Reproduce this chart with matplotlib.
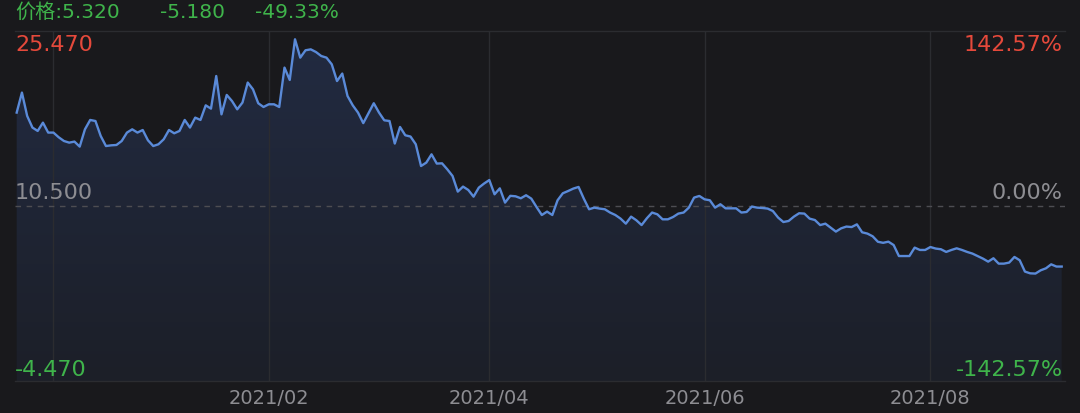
import numpy as np
import pandas as pd
import matplotlib
matplotlib.use('Agg')
import matplotlib.pyplot as plt

plt.rcParams['font.family'] = ['DejaVu Sans', 'Noto Sans CJK SC']

# daily closing prices (NYSE trading days from 2020-11-19)
prices = [
    18.49, 20.20, 18.20, 17.21, 16.92, 17.63, 16.78, 16.78, 16.38, 16.06,
    15.92, 16.01, 15.58, 17.06, 17.86, 17.77, 16.49, 15.63, 15.69, 15.72,
    16.06, 16.78, 17.06, 16.78, 17.00, 16.12, 15.63, 15.78, 16.21, 17.00,
    16.72, 16.92, 17.86, 17.21, 18.06, 17.86, 19.11, 18.83, 21.62, 18.34,
    20.00, 19.48, 18.77, 19.35, 21.06, 20.48, 19.29, 18.97, 19.20, 19.20,
    18.97, 22.34, 21.28, 24.76, 23.19, 23.82, 23.90, 23.67, 23.33, 23.19,
    22.62, 21.19, 21.83, 19.91, 19.11, 18.49, 17.59, 18.43, 19.29, 18.49,
    17.83, 17.77, 15.84, 17.26, 16.55, 16.44, 15.78, 13.92, 14.21, 14.92,
    14.13, 14.15, 13.64, 13.07, 11.73, 12.16, 11.87, 11.30, 12.07, 12.42,
    12.72, 11.50, 12.01, 10.79, 11.37, 11.33, 11.16, 11.42, 11.13, 10.41,
    9.73, 10.02, 9.73, 10.99, 11.59, 11.78, 11.99, 12.13, 11.13, 10.22,
    10.36, 10.28, 10.22, 9.94, 9.73, 9.42, 8.99, 9.59, 9.28, 8.87,
    9.45, 9.94, 9.79, 9.36, 9.36, 9.56, 9.85, 9.94, 10.36, 11.22,
    11.36, 11.07, 10.99, 10.36, 10.65, 10.30, 10.30, 10.30, 9.94, 9.99,
    10.45, 10.36, 10.33, 10.28, 10.07, 9.51, 9.13, 9.22, 9.59, 9.88,
    9.85, 9.42, 9.30, 8.87, 8.99, 8.65, 8.31, 8.59, 8.74, 8.70,
    8.93, 8.25, 8.14, 7.91, 7.44, 7.35, 7.45, 7.16, 6.22, 6.22,
    6.22, 6.94, 6.74, 6.74, 6.99, 6.86, 6.80, 6.57, 6.74, 6.88,
    6.74, 6.57, 6.43, 6.22, 6.00, 5.74, 6.03, 5.57, 5.57, 5.66,
    6.14, 5.86, 4.89, 4.74, 4.72, 5.00, 5.17, 5.51, 5.32, 5.32,
]
prev_close = 10.5
y_high = 25.47
y_low = -4.47
holidays = ['2020-11-26', '2020-12-25', '2021-01-01', '2021-01-18', '2021-02-15',
            '2021-04-02', '2021-05-31', '2021-07-05', '2021-09-06']

dates = pd.bdate_range('2020-11-19', periods=len(prices), freq='C', holidays=holidays)
x = np.arange(len(prices))
last = prices[-1]
chg = last - prev_close
pct = chg / prev_close * 100
span_pct = (y_high - prev_close) / prev_close * 100

BG = '#19191c'
GRID = '#2b2c30'
RED = '#e5493b'
GREEN = '#3fb44b'
GRAY = '#8d8d92'
LINE = '#5a8ad8'

fig = plt.figure(figsize=(10.8, 4.14), dpi=100, facecolor=BG)
ax = fig.add_axes([15 / 1080, 32 / 414, 1050 / 1080, 350 / 414])
ax.set_facecolor(BG)

x0, x1 = -0.32, len(prices) - 1 + 0.63
ax.set_xlim(x0, x1)
ax.set_ylim(y_low, y_high)

# gradient fill under the line
fill = ax.fill_between(x, prices, y_low, color='none', lw=0)
top_c = np.array([34, 43, 66]) / 255
bot_c = np.array([28, 31, 40]) / 255
t = np.linspace(0, 1, 256)[:, None]
grad = bot_c * (1 - t) + top_c * t
grad = np.repeat(grad[:, None, :], 2, axis=1)
im = ax.imshow(grad, extent=[x0, x1, y_low, y_high], origin='lower',
               aspect='auto', zorder=1, interpolation='bilinear')
im.set_clip_path(fill.get_paths()[0], transform=ax.transData)

ax.plot(x, prices, color=LINE, lw=1.7, zorder=3, solid_joinstyle='round')

# dashed previous close line
ax.axhline(prev_close, color='#4d4d52', lw=1, ls=(0, (4, 4)), zorder=2)

# month grid every two months
ticks = [i for i in range(1, len(dates))
         if dates[i].month != dates[i - 1].month and dates[i].month % 2 == 0]
labels = [dates[i].strftime('%Y/%m') for i in ticks]
labels[0] = ''  # first one is not labelled in the app
ax.set_xticks(ticks)
ax.set_xticklabels(labels)
ax.set_yticks([])
ax.grid(True, axis='x', color=GRID, lw=1, zorder=0)
ax.tick_params(axis='x', length=0, pad=5, labelsize=14, labelcolor=GRAY)

for side in ['left', 'right']:
    ax.spines[side].set_visible(False)
for side in ['top', 'bottom']:
    ax.spines[side].set_color(GRID)
    ax.spines[side].set_linewidth(1)

# axis value labels
fs = 16
ax.text(0.0, 0.964, f'{y_high:.3f}', transform=ax.transAxes, color=RED,
        fontsize=fs, ha='left', va='center')
ax.text(0.0, 0.54, f'{prev_close:.3f}', transform=ax.transAxes, color=GRAY,
        fontsize=fs, ha='left', va='center')
ax.text(0.0, 0.034, f'{y_low:.3f}', transform=ax.transAxes, color=GREEN,
        fontsize=fs, ha='left', va='center')
ax.text(0.998, 0.964, f'{span_pct:.2f}%', transform=ax.transAxes, color=RED,
        fontsize=fs, ha='right', va='center')
ax.text(0.998, 0.54, '0.00%', transform=ax.transAxes, color=GRAY,
        fontsize=fs, ha='right', va='center')
ax.text(0.998, 0.034, f'-{span_pct:.2f}%', transform=ax.transAxes, color=GREEN,
        fontsize=fs, ha='right', va='center')

# header
hy = 1 - 12 / 414
fig.text(15 / 1080, hy, f'价格:{last:.3f}', color=GREEN, fontsize=14.5,
         ha='left', va='center')
fig.text(160 / 1080, hy, f'{chg:.3f}', color=GREEN, fontsize=14.5,
         ha='left', va='center')
fig.text(255 / 1080, hy, f'{pct:.2f}%', color=GREEN, fontsize=14.5,
         ha='left', va='center')

fig.savefig('out.png', dpi=100, facecolor=BG)
